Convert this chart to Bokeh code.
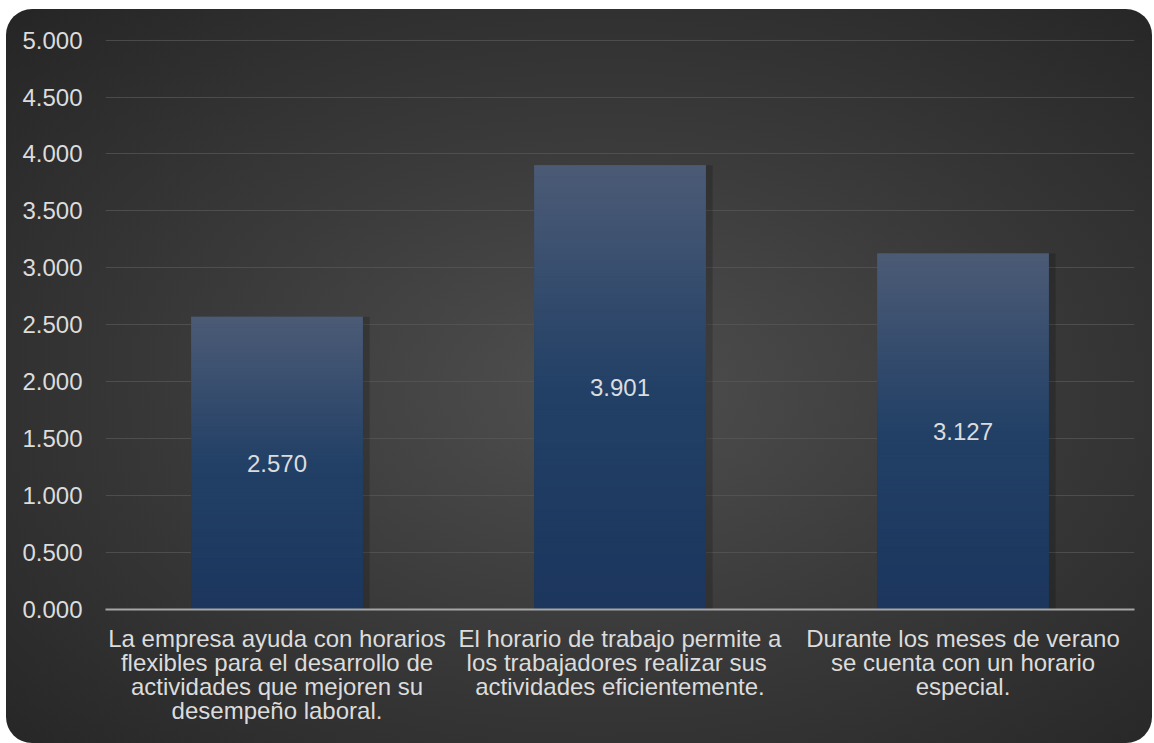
from bokeh.plotting import figure
from bokeh.models import NumeralTickFormatter, SingleIntervalTicker, ColumnDataSource, LabelSet
from bokeh.core.properties import value
from bokeh.transform import dodge
from bokeh.embed import file_html
from bokeh.resources import INLINE

categories = [
    "La empresa ayuda con horarios\nflexibles para el desarrollo de\nactividades que mejoren su\ndesempeño laboral.",
    "El horario de trabajo permite a\nlos trabajadores  realizar sus\nactividades eficientemente.",
    "Durante los meses de verano\nse cuenta con un horario\nespecial.",
]
values = [2.570, 3.901, 3.127]
value_labels = ["2.570", "3.901", "3.127"]

FONT = "Liberation Sans"
TXT = "#dcdcdc"
FS = "24px"

p = figure(x_range=categories, y_range=(0, 5.005), width=1146, height=734,
           output_backend="svg", toolbar_location=None,
           min_border_left=99, min_border_right=18, min_border_top=30, min_border_bottom=134,
           styles={"background": "radial-gradient(ellipse farthest-corner at 52% 52%, #4f4f4f 0%, #3b3b3b 45%, #252525 100%)",
                   "border-radius": "26px", "overflow": "hidden", "margin": "9px 0 0 6px"})
p.border_fill_color = None
p.background_fill_color = None
p.outline_line_color = None

# shadow
p.vbar(x=dodge("x", 0.01, range=p.x_range), top="top", width=0.52, bottom=0,
       source=ColumnDataSource(dict(x=categories, top=values)),
       fill_color="black", fill_alpha=0.18, line_color=None)

# gradient bars built from stacked, overlapping segments
N = 80
stops = [(0.0, (28, 54, 94)), (0.5, (34, 64, 102)), (1.0, (76, 91, 118))]
def col(t):
    for (t0, c0), (t1, c1) in zip(stops[:-1], stops[1:]):
        if t <= t1:
            f = (t - t0) / (t1 - t0)
            return "#%02x%02x%02x" % tuple(int(round(a + (b - a) * f)) for a, b in zip(c0, c1))
    return "#%02x%02x%02x" % stops[-1][1]

xs, bots, tops, cols = [], [], [], []
for k_, v in zip(categories, values):
    for i in range(N):
        xs.append(k_)
        bots.append(v * i / N)
        tops.append(v * min(i + 2, N) / N)
        cols.append(col((i + 0.5) / N))
p.vbar(x="x", bottom="b", top="t", width=0.5, fill_color="c", line_color=None,
       source=ColumnDataSource(dict(x=xs, b=bots, t=tops, c=cols)))

lab_src = ColumnDataSource(dict(x=categories, y=[v / 2 for v in values], t=value_labels))
p.add_layout(LabelSet(x="x", y="y", text="t", source=lab_src, text_align="center",
                      text_baseline="middle", text_color=TXT, text_font=value(FONT),
                      text_font_size=FS))

p.yaxis.ticker = SingleIntervalTicker(interval=0.5)
p.yaxis.formatter = NumeralTickFormatter(format="0.000")
p.yaxis.axis_line_color = None
p.yaxis.major_tick_line_color = None
p.yaxis.minor_tick_line_color = None
p.yaxis.major_label_standoff = 17
p.yaxis.major_label_text_color = TXT
p.yaxis.major_label_text_font = FONT
p.yaxis.major_label_text_font_size = FS

p.xaxis.axis_line_color = "#a6a6a6"
p.xaxis.axis_line_width = 2
p.xaxis.major_tick_line_color = None
p.xaxis.minor_tick_line_color = None
p.xaxis.major_label_standoff = 9
p.xaxis.major_label_text_color = TXT
p.xaxis.major_label_text_font = FONT
p.xaxis.major_label_text_font_size = FS
p.xaxis.major_label_text_line_height = 0.89

p.xgrid.grid_line_color = None
p.ygrid.grid_line_color = "#585858"
p.ygrid.grid_line_alpha = 0.7

open("out.html", "w").write(file_html(p, INLINE))
